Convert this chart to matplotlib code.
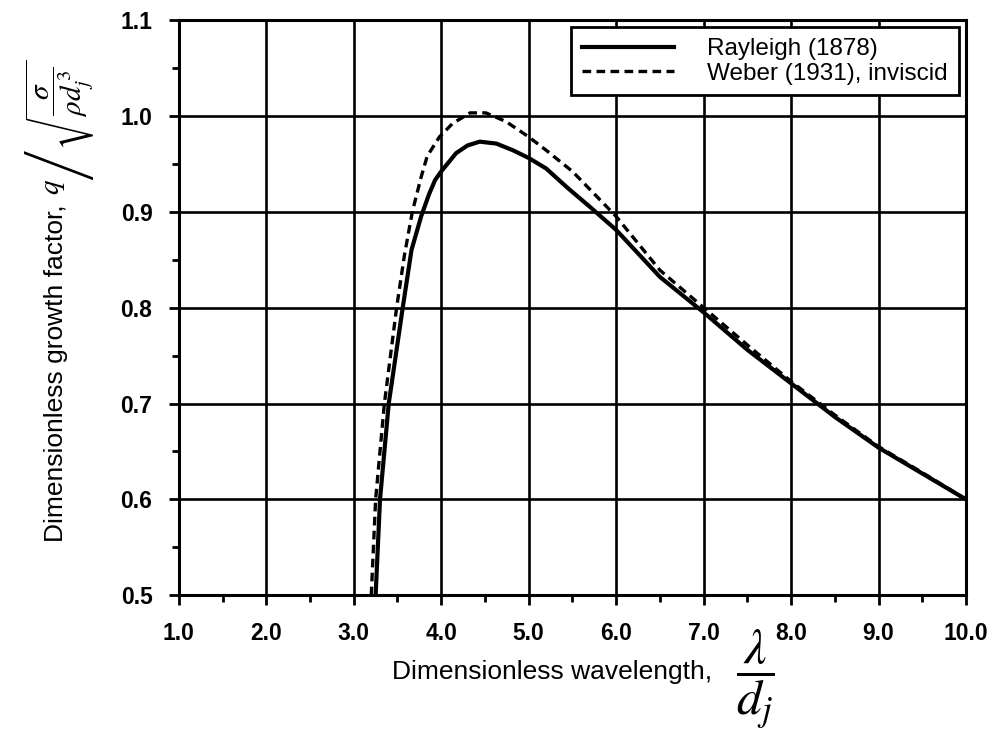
import matplotlib
matplotlib.use('Agg')
import matplotlib.pyplot as plt
from matplotlib.ticker import MultipleLocator, FormatStrFormatter

plt.rcParams['font.family'] = ['Liberation Sans', 'DejaVu Sans']
plt.rcParams['mathtext.fontset'] = 'stix'

# Rayleigh (1878)
ray_x = [3.25, 3.30, 3.40, 3.56, 3.66, 3.77, 3.86, 3.93, 4.0, 4.17, 4.30, 4.44, 4.63, 4.82, 5.0,
         5.2, 5.43, 5.7, 6.0, 6.5, 7.0, 7.5, 8.0, 8.5, 9.0, 9.5, 10.0]
ray_y = [0.50, 0.60, 0.70, 0.80, 0.86, 0.895, 0.918, 0.933, 0.942, 0.961, 0.969, 0.973, 0.971, 0.964, 0.956,
         0.945, 0.926, 0.905, 0.881, 0.832, 0.795, 0.756, 0.721, 0.686, 0.654, 0.627, 0.600]

# Weber (1931), inviscid
web_x = [3.20, 3.25, 3.35, 3.49, 3.58, 3.67, 3.77, 3.84, 3.98, 4.13, 4.33, 4.51, 4.74, 5.0,
         5.2, 5.5, 6.0, 6.5, 7.0, 7.5, 8.0, 8.5, 9.0, 9.5, 10.0]
web_y = [0.50, 0.60, 0.70, 0.80, 0.855, 0.90, 0.936, 0.958, 0.978, 0.992, 1.003, 1.003, 0.994, 0.978,
         0.964, 0.942, 0.895, 0.839, 0.800, 0.761, 0.723, 0.688, 0.655, 0.628, 0.600]

fig = plt.figure(figsize=(9.99, 7.35), dpi=100)
ax = fig.add_axes([0.179, 0.190, 0.788, 0.783])

ax.plot(ray_x, ray_y, color='black', lw=3.0, label='Rayleigh (1878)')
ax.plot(web_x, web_y, color='black', lw=2.4, linestyle=(0, (2.6, 1.6)),
        label='Weber (1931), inviscid')

ax.set_xlim(1, 10)
ax.set_ylim(0.5, 1.1)
ax.xaxis.set_major_locator(MultipleLocator(1.0))
ax.xaxis.set_minor_locator(MultipleLocator(0.5))
ax.yaxis.set_major_locator(MultipleLocator(0.1))
ax.yaxis.set_minor_locator(MultipleLocator(0.05))
ax.xaxis.set_major_formatter(FormatStrFormatter('%.1f'))
ax.yaxis.set_major_formatter(FormatStrFormatter('%.1f'))
ax.grid(True, which='major', color='black', lw=1.9)
for s in ax.spines.values():
    s.set_linewidth(2.2)
ax.tick_params(which='major', direction='out', length=7, width=2, labelsize=16.5, pad=12)
ax.tick_params(which='minor', direction='out', length=5, width=2)
for lab in ax.get_xticklabels() + ax.get_yticklabels():
    lab.set_fontweight('bold')

leg = ax.legend(loc='upper right', fontsize=17.5, handlelength=3.8, handletextpad=1.35,
                frameon=True, fancybox=False, edgecolor='black', borderaxespad=0.3,
                borderpad=0.45, labelspacing=0.1)
leg.get_frame().set_linewidth(2)
leg.get_frame().set_alpha(1)

fig.text(0.553, 0.086, 'Dimensionless wavelength,', fontsize=19, ha='center', va='center')
fig.text(0.756, 0.076, r'$\dfrac{\lambda}{d_j}$', fontsize=36, ha='center', va='center')

fig.text(0.056, 0.262, 'Dimensionless growth factor,', fontsize=19, rotation=90,
         ha='center', va='bottom')
fig.text(0.060, 0.735, r'$q\left/\sqrt{\dfrac{\sigma}{\rho d_j^{\,3}}}\right.$', fontsize=21,
         rotation=90, ha='center', va='bottom')

fig.savefig('out.png', dpi=100)
